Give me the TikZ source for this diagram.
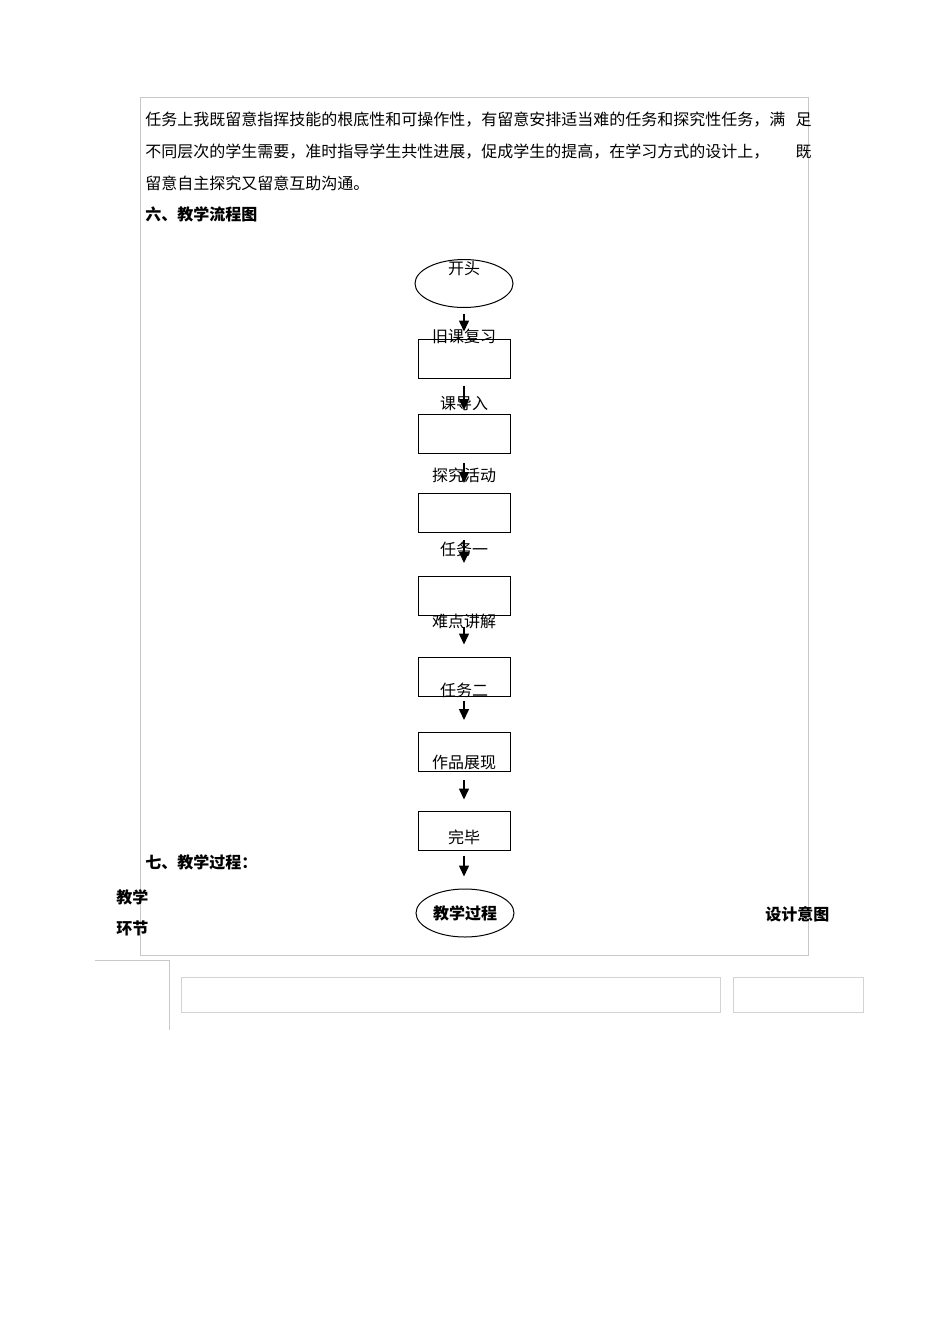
\documentclass[tikz,border=0pt]{standalone}
\usepackage{fontspec}
\setmainfont{Noto Sans CJK SC}
\usetikzlibrary{arrows.meta,shapes.geometric}
\definecolor{framegray}{RGB}{200,200,200}
\tikzset{
  flowbox/.style={draw,line width=0.5pt,minimum width=46pt,minimum height=19.5pt,inner sep=0pt},
  flowoval/.style={draw,line width=0.5pt,ellipse,minimum width=49pt,minimum height=24pt,inner sep=0pt},
  flowarrow/.style={line width=0.75pt,-{Triangle[length=5.5pt,width=5pt]}},
  txt/.style={inner sep=0pt,font=\fontsize{8pt}{9pt}\selectfont},
  head/.style={txt,font=\fontsize{8pt}{9pt}\selectfont\bfseries}
}
\begin{document}
\begin{tikzpicture}[x=0.5pt,y=-0.5pt]
\useasboundingbox (0,0) rectangle (950,1344);
\draw[framegray] (140,97) rectangle (808,955);
% paragraph
\node[txt,anchor=west] (l1) at (145,120) {任务上我既留意指挥技能的根底性和可操作性，有留意安排适当难的任务和探究性任务，满};
\node[txt,anchor=east] (l1e) at (812,120) {足};
\node[txt,anchor=west] (l2) at (145,152) {不同层次的学生需要，准时指导学生共性进展，促成学生的提高，在学习方式的设计上，};
\node[txt,anchor=east] (l2e) at (812,152) {既};
\node[txt,anchor=west] (l3) at (145,183) {留意自主探究又留意互助沟通。};
\node[head,anchor=west] (h6) at (145,214) {六、教学流程图};
% flow
\node[flowoval] (start) at (464,283.5) {};
\node[flowbox] (b1) at (464,358.5) {};
\node[flowbox] (b2) at (464,434) {};
\node[flowbox] (b3) at (464,513) {};
\node[flowbox] (b4) at (464,596) {};
\node[flowbox] (b5) at (464,676.5) {};
\node[flowbox] (b6) at (464,752) {};
\node[flowbox] (b7) at (464,830.5) {};
\node[flowoval] (proc) at (465,913) {};
\foreach \a/\b/\s/\e in {start/b1/3/3.5,b1/b2/3.5/2,b2/b3/4.5/5,b3/b4/3.5/6.5,
                          b4/b5/5.5/6,b5/b6/2/6,b6/b7/4/5.5}
  \draw[flowarrow,shorten <=\s pt,shorten >=\e pt] (\a.south) -- (\b.north);
\draw[flowarrow,shorten <=2.5pt,shorten >=6pt] (b7.south) -- (b7.south |- proc.north);
\node[txt] (t0) at (464,269) {开头};
\node[txt] (t1) at (464,336) {旧课复习};
\node[txt] (t2) at (464,404) {课导入};
\node[txt] (t3) at (464,475) {探究活动};
\node[txt] (t4) at (464,549) {任务一};
\node[txt] (t5) at (464,621) {难点讲解};
\node[txt] (t6) at (464,690) {任务二};
\node[txt] (t7) at (464,762) {作品展现};
\node[txt] (t8) at (464,837) {完毕};
\node[head] (tp) at (proc) {教学过程};
% section seven
\node[head,anchor=west] (h7) at (145,862) {七、教学过程：};
\node[head,anchor=west] (c1) at (116,897) {教学};
\node[head,anchor=west] (c2) at (116,928) {环节};
\node[head,anchor=west] (c3) at (765,914) {设计意图};
% table remains
\draw[framegray] (95,960) -- (169,960) -- (169,1030);
\draw[framegray!80] (181,977) rectangle (720,1012);
\draw[framegray!80] (733,977) rectangle (863,1012);
\end{tikzpicture}
\end{document}
